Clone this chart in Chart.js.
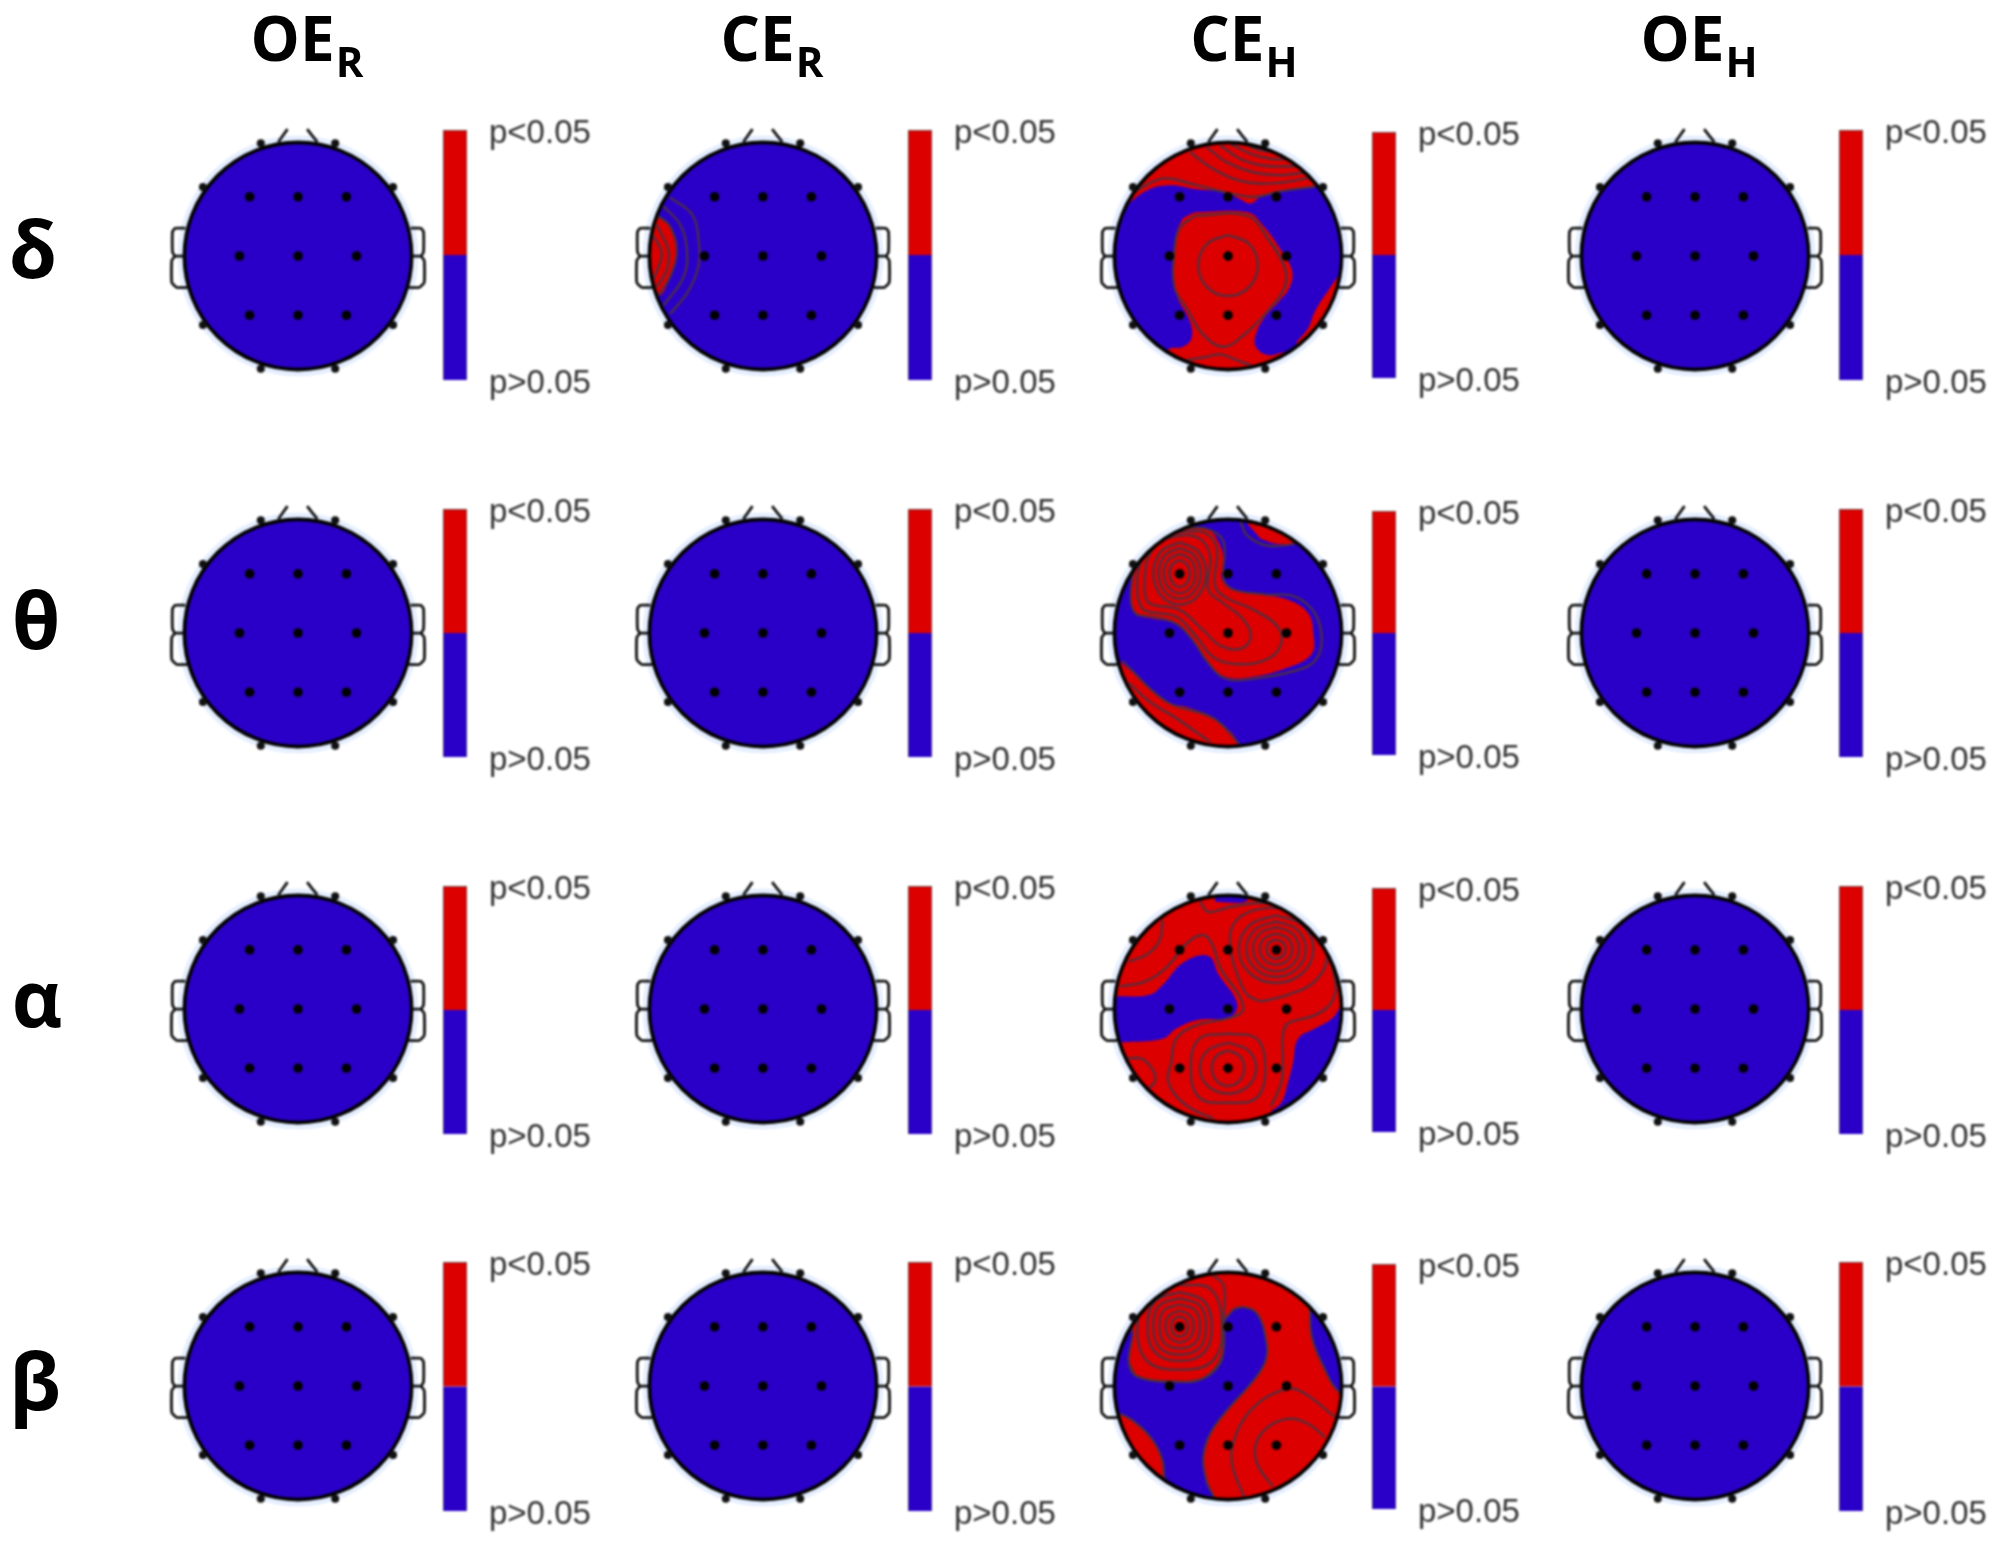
<!DOCTYPE html>
<html>
<head>
<meta charset="utf-8">
<title>Scalp maps</title>
<script src="https://cdn.jsdelivr.net/npm/chart.js@4"></script>
<style>
    html, body { margin: 0; padding: 0; background: #fff; }
    #page { position: relative; width: 1997px; height: 1546px; overflow: hidden; }
    canvas { position: absolute; filter: blur(0.8px); }
    .titre { position: absolute; transform: translate(-50%, -50%); font: bold 62px "Open Sans"; color: #000; white-space: nowrap; filter: blur(0.6px); }
    .titre sub { font-size: 42px; line-height: 0; vertical-align: -16px; margin-left: 1px; }
    .bande { position: absolute; transform: translate(-50%, -50%); font: bold 78px "Open Sans"; color: #000; filter: blur(0.6px); }
</style>
</head>
<body>
<div id="page"></div>
<script>
// *** donnees ***
const conditions = ["OE", "CE", "CE", "OE"];
const conditionIndices = ["R", "R", "H", "H"];
const bandes = ["δ", "θ", "α", "β"];
const colorbarLabels = ["p>0.05", "p<0.05"];
const colorbarLevels = [1, 1];

// electrodes et contour de la tete (unites : rayon de la tete = 336)
const electrodes = [[-143,175],[0,175],[143,175],[-173,0],[0,0],[173,0],[-143,-175],[0,-175],[143,-175]];
const rimMarks = [[-110,333],[110,333],[-281,204],[281,204],[-281,-204],[281,-204],[-110,-333],[110,-333]];
const noseLeft = [[-58,337],[-31,375]];
const noseRight = [[57,337],[27,375]];
const earLeftUp = [[-333,82],[-363,82],[-371,72],[-371,12],[-363,0],[-338,0]];
const earLeftDown = [[-363,0],[-373,-13],[-373,-78],[-358,-93],[-328,-93]];
const earRightUp = [[333,82],[363,82],[371,72],[371,12],[363,0],[338,0]];
const earRightDown = [[363,0],[373,-13],[373,-78],[358,-93],[328,-93]];
const wholeScalp = [[-400,-400],[400,-400],[400,400],[-400,400]];

// CE_R delta
const ceRDeltaRed = [[[-310,118],[-275,88],[-255,18],[-275,-62],[-310,-117],[-380,-50],[-380,60]]];
const ceRDeltaLines = [
    [[-275,173],[-210,123],[-190,43],[-190,-27],[-220,-102],[-275,-172]],
    [[-295,148],[-245,93],[-225,18],[-235,-62],[-295,-147]],
    [[-310,118],[-275,88],[-255,18],[-275,-62],[-310,-117]],
    [[-315,93],[-280,18],[-285,-42],[-315,-92]],
    [[-330,68],[-300,8],[-325,-72]]
];

// CE_H delta
const ceHDeltaRed = [
    [[-313,137],[-243,192],[-173,209],[-93,197],[-3,187],[37,167],[67,155],[97,175],[157,192],[257,205],[317,207],[400,400],[-400,400],[-400,137]],
    [[-98,129],[57,129],[102,92],[157,17],[189,-43],[182,-93],[147,-138],[107,-183],[82,-233],[82,-268],[117,-293],[177,-288],[207,-363],[-203,-363],[-178,-278],[-133,-268],[-108,-243],[-113,-193],[-153,-113],[-163,-23],[-153,67],[-133,112]],
    [[327,-58],[302,-93],[257,-163],[237,-213],[202,-263],[260,-260],[380,-200],[380,-58]]
];
const ceHDeltaLines = [
    [[0,62],[62,36],[88,-28],[62,-92],[0,-118],[-62,-92],[-88,-28],[-62,36],[0,62]],
    [[-98,119],[57,119],[117,52],[167,-33],[167,-93],[117,-163],[47,-233],[-13,-268],[-73,-233],[-123,-153],[-158,-93],[-158,17],[-143,82],[-98,119]],
    [[-283,187],[-193,229],[-103,212],[-3,187],[77,175],[157,192],[257,205]],
    [[-113,307],[-43,257],[37,222],[137,215],[247,232]],
    [[-63,322],[-3,277],[77,247],[157,239],[227,247]],
    [[-23,327],[37,287],[107,267],[197,265]],
    [[7,332],[67,302],[127,287],[187,287]],
    [[47,332],[97,312],[157,307]],
    [[-123,-308],[-63,-298],[-23,-291],[27,-308],[67,-323]]
];

// CE_H theta
const ceHThetaRed = [
    [[-268,198],[-233,268],[-183,298],[-113,310],[-58,306],[-28,268],[-13,218],[-18,158],[17,128],[97,113],[177,98],[237,58],[252,-2],[247,-62],[177,-102],[57,-132],[-13,-127],[-63,-82],[-103,-22],[-153,28],[-223,43],[-273,58],[-288,108],[-283,168]],
    [[57,323],[120,360],[220,300],[197,268],[147,263],[97,278]],
    [[-323,-82],[-263,-132],[-183,-202],[-113,-222],[-43,-252],[27,-327],[-43,-370],[-243,-310],[-350,-122]]
];
const ceHThetaLines = [
    [[-143,216],[-122,204],[-113,176],[-122,148],[-143,136],[-164,148],[-173,176],[-164,204],[-143,216]],
    [[-143,234],[-110,217],[-96,176],[-110,135],[-143,118],[-176,135],[-190,176],[-176,217],[-143,234]],
    [[-143,251],[-99,229],[-81,176],[-99,123],[-143,101],[-187,123],[-205,176],[-187,229],[-143,251]],
    [[-143,268],[-88,241],[-65,176],[-88,111],[-143,84],[-198,111],[-221,176],[-198,241],[-143,268]],
    [[-248,128],[-233,88],[-143,68],[-73,8],[-23,-37],[37,-47],[67,-12],[47,38],[-13,88],[-58,128],[-53,228],[-83,278],[-143,288],[-203,268],[-238,218],[-248,128]],
    [[-268,108],[-248,68],[-153,48],[-93,-12],[-43,-72],[27,-92],[117,-77],[157,-32],[147,18],[77,68],[-3,103],[-38,138],[-33,248],[-63,293],[-123,300],[-193,283],[-248,228],[-268,168],[-268,108]],
    [[117,113],[197,108],[257,58],[277,-22],[257,-82],[197,-112],[57,-137],[-13,-132],[-63,-82],[-103,-22],[-153,28],[-223,48],[-273,58],[-288,108],[-273,198],[-233,268],[-183,298],[-113,310],[-58,306],[-13,268],[-13,158],[17,128],[117,113]],
    [[-293,-147],[-233,-202],[-153,-252],[-53,-322]],
    [[37,328],[57,288],[117,258],[197,263]],
    [[-313,-82],[-183,-202],[-43,-252],[37,-332]]
];

// CE_H alpha
const ceHAlphaRed = [wholeScalp];
const ceHAlphaBlue = [
    [[-38,345],[52,345],[52,317],[-38,317]],
    [[-333,37],[-233,42],[-193,72],[-133,137],[-58,157],[-28,102],[27,17],[7,-23],[-93,-33],[-153,-58],[-193,-88],[-313,-98],[-380,-98],[-380,37]],
    [[332,7],[307,-28],[257,-58],[207,-88],[192,-158],[177,-218],[157,-278],[127,-308],[200,-330],[290,-260],[370,-80],[370,7]],
    [[-193,-278],[-113,-328],[-23,-343],[-100,-370],[-240,-310]]
];
const ceHAlphaLines = [
    [[142,205],[162,197],[170,177],[162,157],[142,149],[122,157],[114,177],[122,197],[142,205]],
    [[142,223],[176,210],[190,177],[176,144],[142,131],[108,144],[94,177],[108,210],[142,223]],
    [[142,242],[190,223],[210,177],[190,131],[142,112],[94,131],[74,177],[94,223],[142,242]],
    [[142,259],[204,235],[230,177],[204,119],[142,95],[80,119],[54,177],[80,235],[142,259]],
    [[142,277],[220,248],[252,177],[220,106],[142,77],[64,106],[32,177],[64,248],[142,277]],
    [[97,22],[177,42],[257,82],[292,152],[257,242],[177,292],[77,292],[17,252],[7,182],[27,102],[57,42],[97,22]],
    [[-318,67],[-243,82],[-183,122],[-113,202],[-68,217],[-43,182],[-23,122],[37,32],[42,-8],[-3,-28],[-93,-48],[-153,-88],[-168,-158],[-178,-208],[-153,-258],[-103,-298],[-43,-323]],
    [[-83,317],[-58,287],[7,302],[117,312],[207,272],[277,192],[317,82],[307,22],[257,-18],[177,-43],[162,-78],[162,-158],[157,-218],[127,-288]],
    [[-293,140],[-238,162],[-203,202],[-193,262]],
    [[-303,-146],[-253,-148],[-218,-188],[-218,-218],[-233,-233]],
    [[0,-123],[34,-138],[48,-175],[34,-212],[0,-227],[-34,-212],[-48,-175],[-34,-138],[0,-123]],
    [[0,-100],[59,-122],[83,-175],[59,-228],[0,-250],[-59,-228],[-83,-175],[-59,-122],[0,-100]],
    [[0,-73],[85,-88],[110,-175],[85,-262],[0,-277],[-85,-262],[-110,-175],[-85,-88],[0,-73]]
];

// CE_H beta
const ceHBetaRed = [wholeScalp];
const ceHBetaBlue = [
    [[17,228],[47,233],[87,213],[112,138],[112,78],[77,18],[-3,-72],[-53,-142],[-73,-212],[-63,-282],[-43,-342],[-113,-352],[-183,-282],[-193,-222],[-218,-167],[-263,-117],[-323,-82],[-383,-82],[-383,178],[-288,178],[-293,68],[-268,28],[-163,13],[-73,23],[-23,68],[-13,128],[-13,188],[17,228]],
    [[242,228],[247,148],[277,68],[332,-22],[380,-22],[380,228],[290,250],[242,228]]
];
const ceHBetaLines = [
    [[-143,206],[-125,197],[-118,176],[-125,155],[-143,146],[-161,155],[-168,176],[-161,197],[-143,206]],
    [[-143,223],[-113,209],[-101,176],[-113,143],[-143,129],[-173,143],[-185,176],[-173,209],[-143,223]],
    [[-143,241],[-97,224],[-83,176],[-97,128],[-143,111],[-189,128],[-203,176],[-189,224],[-143,241]],
    [[-143,259],[-83,238],[-65,176],[-83,114],[-143,93],[-203,114],[-221,176],[-203,238],[-143,259]],
    [[-143,278],[-70,250],[-48,176],[-70,100],[-143,74],[-216,100],[-238,176],[-216,250],[-143,278]],
    [[-143,300],[-50,285],[-18,176],[-45,75],[-143,48],[-240,75],[-268,176],[-235,270],[-143,300]],
    [[-43,326],[-13,298],[-13,198],[-18,88],[-73,23],[-163,13],[-268,28],[-293,68]],
    [[47,-327],[12,-232],[17,-162],[67,-72],[147,-17],[207,-12],[317,-92]],
    [[132,-297],[87,-232],[82,-172],[117,-122],[177,-97],[237,-112],[287,-152]],
    ...ceHBetaBlue
];

// les panneaux non listes ici sont entierement bleus ("colonne,ligne")
const panelShapes = {
    "1,0": { red: ceRDeltaRed, lines: ceRDeltaLines },
    "2,0": { red: ceHDeltaRed, lines: ceHDeltaLines },
    "2,1": { red: ceHThetaRed, lines: ceHThetaLines },
    "2,2": { red: ceHAlphaRed, blue: ceHAlphaBlue, lines: ceHAlphaLines },
    "2,3": { red: ceHBetaRed, blue: ceHBetaBlue, lines: ceHBetaLines }
};

// *** mise en page ***
const ROUGE = "#dd0000";
const BLEU = "#2a00c8";
const CONTOUR = "#4c3040";
const HEAD_R = 336;
const PANEL = 272;
const colCenters = [298, 763, 1228, 1695];
const rowCenters = [256, 633, 1009, 1386];
const titleCenters = [307, 772, 1244, 1699];
const bandCenters = [[33, 248], [36, 619], [37, 997], [35, 1380]];
const barLefts = [443, 908, 1372, 1839];
const BAR_W = 24;
const LABEL_W = 130;
const BAR_PAD = 45;
const barTops = [130, 509, 886, 1262];
const barHeights = [250, 248, 248, 249];

const page = document.querySelector("#page");

function pts(liste) {
    return liste.map(p => ({ x: p[0], y: p[1] }));
}

function addCanvas(left, top, width, height) {
    const canvas = document.createElement("canvas");
    canvas.width = width;
    canvas.height = height;
    canvas.style.left = left + "px";
    canvas.style.top = top + "px";
    canvas.style.width = width + "px";
    canvas.style.height = height + "px";
    page.appendChild(canvas);
    return canvas;
}

// disque bleu + halo, puis tout ce qui est rouge/contour reste dans le disque
const scalpPlugin = {
    id: "scalp",
    beforeDatasetsDraw(chart) {
        const { ctx, scales } = chart;
        const cx = scales.x.getPixelForValue(0);
        const cy = scales.y.getPixelForValue(0);
        const r = scales.x.getPixelForValue(HEAD_R) - cx;
        ctx.save();
        ctx.fillStyle = "#e6efff";
        ctx.beginPath();
        ctx.arc(cx, cy, r * 1.06, 0, Math.PI * 2);
        ctx.fill();
        ctx.fillStyle = BLEU;
        ctx.beginPath();
        ctx.arc(cx, cy, r, 0, Math.PI * 2);
        ctx.fill();
        ctx.restore();
        ctx.save();
        ctx.beginPath();
        ctx.arc(cx, cy, r, 0, Math.PI * 2);
        ctx.clip();
        chart.$clipped = true;
    },
    beforeDatasetDraw(chart, args) {
        if (chart.data.datasets[args.index].onTop && chart.$clipped) {
            const { ctx, scales } = chart;
            ctx.restore();
            chart.$clipped = false;
            const cx = scales.x.getPixelForValue(0);
            const r = scales.x.getPixelForValue(HEAD_R) - cx;
            ctx.save();
            ctx.strokeStyle = "#000";
            ctx.lineWidth = 3.6;
            ctx.beginPath();
            ctx.arc(cx, scales.y.getPixelForValue(0), r, 0, Math.PI * 2);
            ctx.stroke();
            ctx.restore();
        }
    }
};

function patch(liste, couleur) {
    return { data: pts(liste), showLine: true, pointRadius: 0, borderWidth: 0, tension: 0.4, backgroundColor: couleur, fill: "shape" };
}

function contour(liste) {
    return { data: pts(liste), showLine: true, pointRadius: 0, borderWidth: 2.2, tension: 0.4, borderColor: CONTOUR, fill: false };
}

function trait(liste) {
    return { data: pts(liste), showLine: true, pointRadius: 0, borderWidth: 2.8, borderColor: "#111", tension: 0.15, fill: false, onTop: true };
}

function dessinerTete(col, row) {
    const shapes = panelShapes[col + "," + row] || {};
    const canvas = addCanvas(colCenters[col] - PANEL / 2, rowCenters[row] - PANEL / 2, PANEL, PANEL);
    // chart.js dessine du dernier au premier jeu de donnees
    const datasets = [
        { data: pts(electrodes), pointRadius: 4.8, pointBackgroundColor: "#000", pointBorderWidth: 0, onTop: true },
        { data: pts(rimMarks), pointRadius: 4, pointBackgroundColor: "#111", pointBorderWidth: 0, onTop: true },
        trait(noseLeft), trait(noseRight),
        trait(earLeftUp), trait(earLeftDown), trait(earRightUp), trait(earRightDown),
        ...(shapes.lines || []).map(contour),
        ...(shapes.blue || []).map(l => patch(l, BLEU)),
        ...(shapes.red || []).map(l => patch(l, ROUGE))
    ];
    new Chart(canvas, {
        type: "scatter",
        data: { datasets: datasets },
        options: {
            responsive: false,
            animation: false,
            events: [],
            layout: { padding: 0, autoPadding: false },
            plugins: { legend: { display: false }, tooltip: { enabled: false } },
            scales: {
                x: { type: "linear", display: false, min: -402, max: 402 },
                y: { type: "linear", display: false, min: -402, max: 402 }
            }
        },
        plugins: [scalpPlugin]
    });
}

function dessinerBarre(col, row) {
    let top = barTops[row];
    let height = barHeights[row];
    if (col === 2) { top += 2; height -= 4; }
    const canvas = addCanvas(barLefts[col], top - BAR_PAD, BAR_W + LABEL_W, height + BAR_PAD * 2);
    new Chart(canvas, {
        type: "bar",
        data: {
            labels: [""],
            datasets: [
                { label: colorbarLabels[0], data: [colorbarLevels[0]], backgroundColor: BLEU, borderColor: "#555", borderWidth: { left: 1, right: 1, bottom: 1 } },
                { label: colorbarLabels[1], data: [colorbarLevels[1]], backgroundColor: ROUGE, borderColor: "#555", borderWidth: { left: 1, right: 1, top: 1 } }
            ]
        },
        options: {
            responsive: false,
            animation: false,
            events: [],
            layout: { padding: { top: BAR_PAD, bottom: BAR_PAD } },
            plugins: { legend: { display: false }, tooltip: { enabled: false } },
            datasets: { bar: { barPercentage: 1, categoryPercentage: 1 } },
            scales: {
                x: { stacked: true, display: false },
                y: {
                    stacked: true,
                    position: "right",
                    min: 0,
                    max: 2,
                    afterFit(scale) { scale.width = LABEL_W; },
                    border: { display: false },
                    grid: { display: false, drawTicks: false },
                    ticks: {
                        stepSize: 2,
                        padding: 22,
                        labelOffset: 4,
                        color: "#333",
                        font: { family: "Liberation Sans", size: 33 },
                        callback: v => (v === 2 ? colorbarLabels[1] : colorbarLabels[0])
                    }
                }
            }
        }
    });
}

// *** titres ***
for (let i = 0; i < conditions.length; i++) {
    const titre = document.createElement("div");
    titre.className = "titre";
    titre.style.left = titleCenters[i] + "px";
    titre.style.top = "37px";
    titre.innerHTML = conditions[i] + "<sub>" + conditionIndices[i] + "</sub>";
    page.appendChild(titre);
}
for (let i = 0; i < bandes.length; i++) {
    const bande = document.createElement("div");
    bande.className = "bande";
    bande.style.left = bandCenters[i][0] + "px";
    bande.style.top = bandCenters[i][1] + "px";
    bande.textContent = bandes[i];
    page.appendChild(bande);
}

// *** graphiques ***
for (let col = 0; col < conditions.length; col++) {
    for (let row = 0; row < bandes.length; row++) {
        dessinerTete(col, row);
        dessinerBarre(col, row);
    }
}
</script>
</body>
</html>
